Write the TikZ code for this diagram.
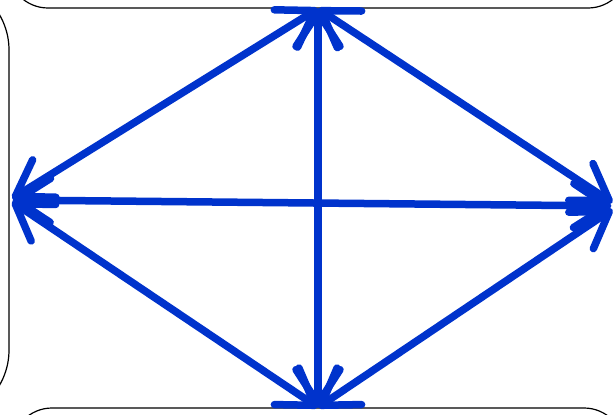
\documentclass[tikz,border=0pt]{standalone}
\usepackage{tikz}
\usepackage{xcolor}
\usetikzlibrary{arrows.meta}
\definecolor{linkblue}{RGB}{0,51,204}

\begin{document}
\begin{tikzpicture}[x=1pt,y=-1pt,>={Straight Barb[length=34pt,width=44pt,round]},
  box/.style={draw,line width=1.2pt,rounded corners=40pt,inner sep=0pt},
  link/.style={draw=linkblue,line width=7.5pt,line cap=round,<->}]
  \useasboundingbox (0,0) rectangle (614,415);
  \clip (0,0) rectangle (614,415);
  % four boxes, only their inner edges fall in the frame
  \node[box,minimum width=620pt,minimum height=76pt] (top) at (318,-30) {};
  \node[box,minimum width=612pt,minimum height=76pt] (bottom) at (318,446) {};
  \node[box,rounded corners=70pt,minimum width=218pt,minimum height=440pt] (left) at (-100,200) {};
  \node[box,rounded corners=70pt,minimum width=200pt,minimum height=440pt] (right) at (718,206) {};
  % every pair linked both ways
  \draw[link] (top.south) -- (bottom.north);
  \draw[link,shorten <=3pt,shorten >=6pt] (left.east) -- (right.west);
  \draw[link,shorten <=3pt] (left.east) -- (top.south);
  \draw[link,shorten <=3pt] (left.east) -- (bottom.north);
  \draw[link,shorten >=6pt] (top.south) -- (right.west);
  \draw[link,shorten >=6pt] (bottom.north) -- (right.west);
\end{tikzpicture}
\end{document}
